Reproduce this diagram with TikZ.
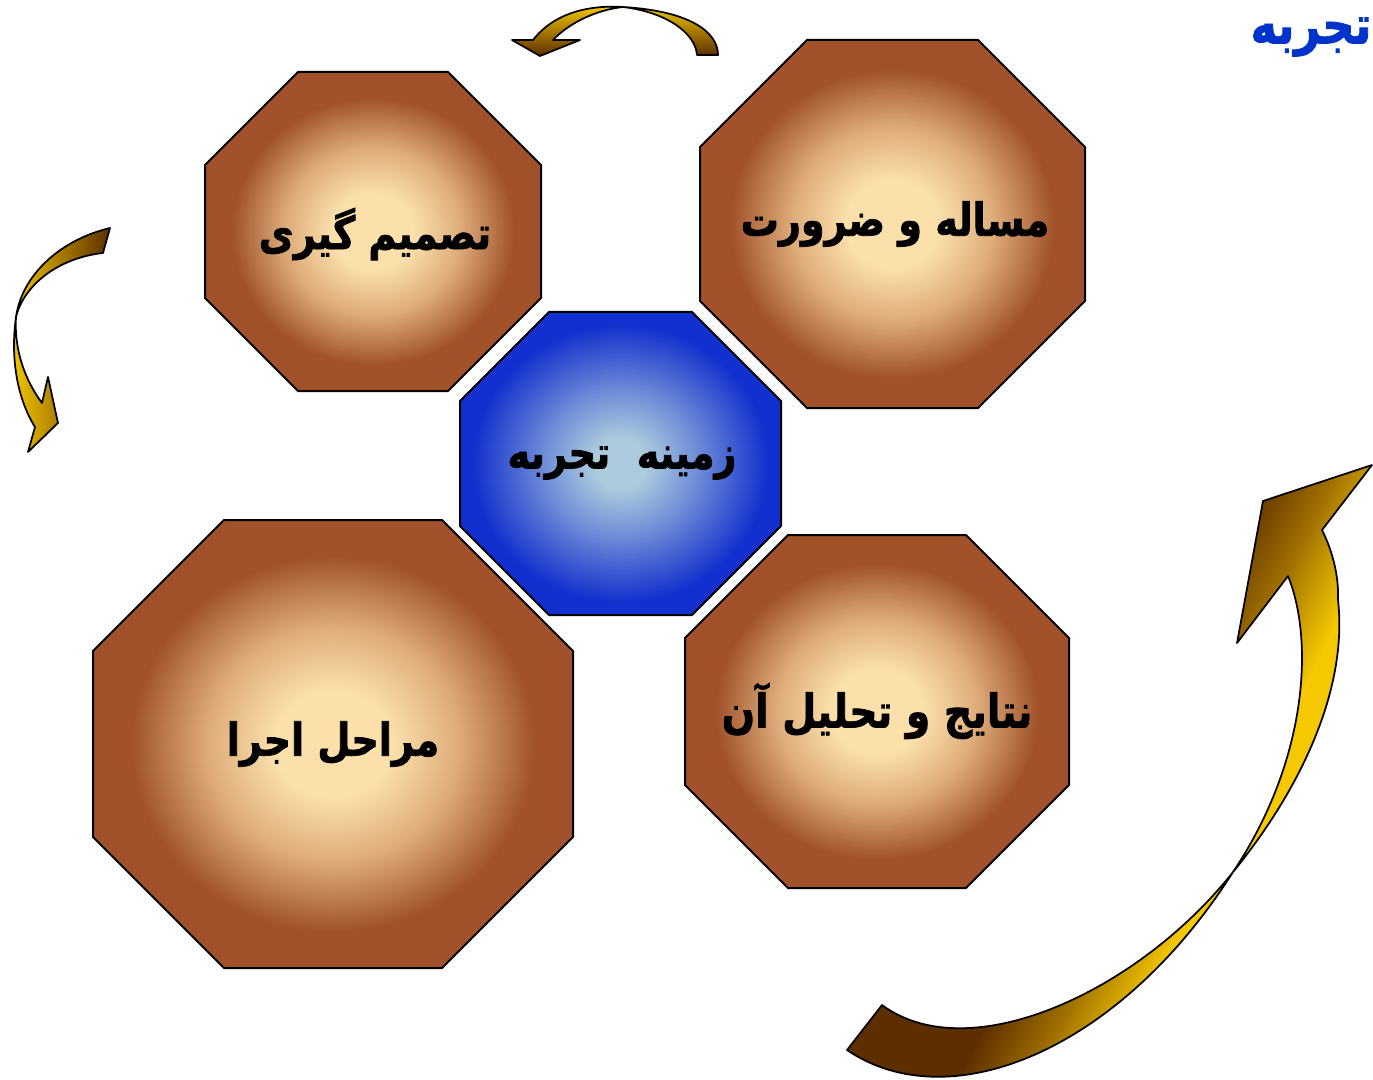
\documentclass[tikz,border=0pt]{standalone}
\usepackage{fontspec}
\newfontfamily\fa[Script=Arabic, FakeStretch=0.84, BoldFeatures={FakeBold=1.6}]{DejaVu Sans}
\TeXXeTstate=1
\definecolor{cream}{RGB}{251,224,172}
\definecolor{tan}{RGB}{222,172,122}
\definecolor{sienna}{RGB}{161,82,42}
\definecolor{lblue}{RGB}{172,204,222}
\definecolor{mblue}{RGB}{110,140,215}
\definecolor{dblue}{RGB}{18,48,205}
\definecolor{agold}{RGB}{245,200,0}
\definecolor{amid}{RGB}{160,112,0}
\definecolor{adk}{RGB}{92,46,0}
\definecolor{tblue}{RGB}{0,51,204}
\pgfdeclareradialshading{octbrown}{\pgfpoint{0bp}{0bp}}{color(0bp)=(cream); color(6bp)=(cream); color(13bp)=(tan); color(21bp)=(sienna); color(50bp)=(sienna)}
\pgfdeclareradialshading{octblue}{\pgfpoint{0bp}{0bp}}{color(0bp)=(lblue); color(4bp)=(lblue); color(12bp)=(mblue); color(23bp)=(dblue); color(50bp)=(dblue)}
\pgfdeclarehorizontalshading{bigarr}{100bp}{color(0bp)=(adk); color(50bp)=(adk); color(55.5bp)=(amid); color(61bp)=(agold); color(100bp)=(agold)}
\tikzset{
  octb/.style={shade, shading=octbrown, draw=black, line width=1.5pt},
  octc/.style={shade, shading=octblue, draw=black, line width=1.5pt},
  lbl/.style={font=\fa\bfseries\fontsize{34}{40}\selectfont, inner sep=0pt, text=black},
  arr/.style={draw=black, line width=1.3pt, line join=round},
}
\newcommand\octshape[6]{%
  \path[#1] ({#2+#6},#3) -- ({#4-#6},#3) -- (#4,{#3+#6}) -- (#4,{#5-#6}) -- ({#4-#6},#5) -- ({#2+#6},#5) -- (#2,{#5-#6}) -- (#2,{#3+#6}) -- cycle;}
\begin{document}
\begin{tikzpicture}[x=0.75pt,y=-0.75pt]
\useasboundingbox (0,0) rectangle (1373,1080);
\clip (0,0) rectangle (1373,1080);
% octagons
\octshape{octb}{700}{40}{1085}{408}{107}
\octshape{octb}{205}{72}{541}{391}{93}
\octshape{octc}{460}{312}{781}{615}{89}
\octshape{octb}{93}{520}{573}{968}{131}
\octshape{octb}{685}{535}{1069}{888}{103}
% labels
\node[lbl] (need) at (895,224) {\beginR مساله و ضرورت\endR};
\node[lbl] (decide) at (375,234) {\beginR تصمیم گیری\endR};
\node[lbl] (context) at (622,463) {\beginR زمینه~~تجربه\endR};
\node[lbl] (stages) at (333,744) {\beginR مراحل اجرا\endR};
\node[lbl, font=\fa\bfseries\fontsize{35}{40}\selectfont] (results) at (877,711) {\beginR نتایج و تحلیل آن\endR};
\node[lbl, text=tblue, font=\fa\bfseries\fontsize{40}{46}\selectfont] (title) at (1311,37) {\beginR تجربه\endR};
% top arrow
\path[arr, top color=agold, bottom color=adk] (512,40) -- (533,40) .. controls (555,12) and (590,5) .. (623,7) .. controls (690,11) and (718,32) .. (718,55) -- (697,55) .. controls (695,32) and (665,12) .. (623,7) .. controls (595,10) and (568,24) .. (553,40) -- (580,40) -- (540,56) -- cycle;
% left arrow
\path[arr, left color=agold, right color=adk] (110,228) .. controls (60,240) and (22,275) .. (16,317) .. controls (10,360) and (18,400) .. (35,427) -- (28,452) -- (58,423) -- (48,377) -- (42,403) .. controls (25,380) and (14,350) .. (16,317) .. controls (24,285) and (58,258) .. (103,253) -- cycle;
% big arrow
\begin{scope}
\clip (847,1050) .. controls (950,1120) and (1120,1050) .. (1233,872) .. controls (1300,790) and (1348,690) .. (1338,600) .. controls (1339,575) and (1332,550) .. (1322,530) -- (1372,465) -- (1263,501) -- (1237,643) -- (1288,576) .. controls (1314,640) and (1308,760) .. (1233,872) .. controls (1140,990) and (970,1070) .. (882,1005) -- cycle;
\shade[shading=bigarr, shading angle=-26.57] (800,462) rectangle (1420,1082);
\end{scope}
\path[arr] (847,1050) .. controls (950,1120) and (1120,1050) .. (1233,872) .. controls (1300,790) and (1348,690) .. (1338,600) .. controls (1339,575) and (1332,550) .. (1322,530) -- (1372,465) -- (1263,501) -- (1237,643) -- (1288,576) .. controls (1314,640) and (1308,760) .. (1233,872) .. controls (1140,990) and (970,1070) .. (882,1005) -- cycle;
\end{tikzpicture}
\end{document}
